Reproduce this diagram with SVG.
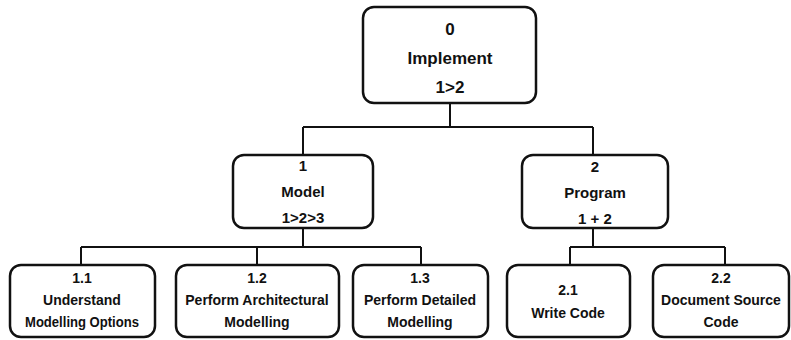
<svg xmlns="http://www.w3.org/2000/svg" width="791" height="340" viewBox="0 0 791 340">
<style>
.box{fill:#ffffff;stroke:#111111;stroke-width:2.5}
.ln{fill:none;stroke:#111111;stroke-width:2}
text{font-family:"Liberation Sans",Arial,sans-serif;font-weight:bold;fill:#111111;text-anchor:middle}
.t0{font-size:17px}
.t1{font-size:15px}
.t2{font-size:14px}
</style>
<rect width="791" height="340" fill="#ffffff"/>
<g id="connectors">
<path class="ln" d="M450,103 V127 M303,127 H593 M303,127 V155 M593,127 V155"/>
<path class="ln" d="M303,228 V247 M81,247 H421 M81,247 V265 M257,247 V265 M421,247 V265"/>
<path class="ln" d="M593,228 V247 M570,247 H725 M570,247 V265 M725,247 V265"/>
</g>
<g id="n0">
<rect class="box" x="363" y="7" width="173" height="96" rx="11"/>
<text class="t0" x="450" y="35">0</text>
<text class="t0" x="450" y="64">Implement</text>
<text class="t0" x="450" y="93">1&gt;2</text>
</g>
<g id="n1">
<rect class="box" x="233" y="155" width="140" height="73" rx="11"/>
<text class="t1" x="303" y="171">1</text>
<text class="t1" x="303" y="197">Model</text>
<text class="t1" x="303" y="223">1&gt;2&gt;3</text>
</g>
<g id="n2">
<rect class="box" x="522" y="155" width="146" height="73" rx="11"/>
<text class="t1" x="595" y="172">2</text>
<text class="t1" x="595" y="198">Program</text>
<text class="t1" x="595" y="224">1 + 2</text>
</g>
<g id="n11">
<rect class="box" x="10" y="265" width="145" height="72" rx="11"/>
<text class="t2" x="82" y="283">1.1</text>
<text class="t2" x="82" y="305">Understand</text>
<text class="t2" x="82" y="327" textLength="114" lengthAdjust="spacingAndGlyphs">Modelling Options</text>
</g>
<g id="n12">
<rect class="box" x="176" y="265" width="163" height="72" rx="11"/>
<text class="t2" x="257" y="283">1.2</text>
<text class="t2" x="257" y="305">Perform Architectural</text>
<text class="t2" x="257" y="327">Modelling</text>
</g>
<g id="n13">
<rect class="box" x="353" y="265" width="135" height="72" rx="11"/>
<text class="t2" x="420" y="283">1.3</text>
<text class="t2" x="420" y="305">Perform Detailed</text>
<text class="t2" x="420" y="327">Modelling</text>
</g>
<g id="n21">
<rect class="box" x="507" y="265" width="123" height="72" rx="11"/>
<text class="t2" x="568" y="295">2.1</text>
<text class="t2" x="568" y="318">Write Code</text>
</g>
<g id="n22">
<rect class="box" x="653" y="265" width="136" height="72" rx="11"/>
<text class="t2" x="721" y="283">2.2</text>
<text class="t2" x="721" y="305">Document Source</text>
<text class="t2" x="721" y="327">Code</text>
</g>
</svg>
